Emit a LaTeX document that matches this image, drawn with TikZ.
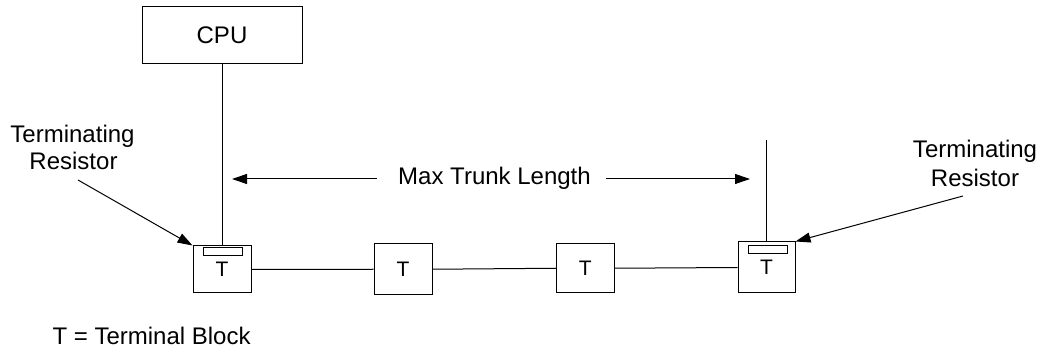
\documentclass[tikz,border=0pt]{standalone}
\usepackage{fontspec}
\setmainfont{Liberation Sans}
\usetikzlibrary{arrows.meta}
\begin{document}
\begin{tikzpicture}[x=1pt,y=-1pt,
  line width=1pt,
  lbl/.style={font=\fontsize{24}{28}\selectfont, inner sep=0pt, anchor=base},
  tbox/.style={draw, inner sep=0pt, font=\fontsize{21}{24}\selectfont},
  resist/.style={draw, inner sep=0pt, minimum width=39pt, minimum height=8pt},
  tip/.style={-{Triangle[length=15pt,width=10pt]}},
  wire/.style={draw}]
\useasboundingbox (0,0) rectangle (1042,352);
% CPU
\node[draw, inner sep=0pt, minimum width=160pt, minimum height=57pt,
      font=\fontsize{24}{28}\selectfont] (cpu) at (222,35.5) {CPU};
% terminal blocks
\node[tbox, minimum width=58pt, minimum height=47pt] (b1) at (222,269.5) {T};
\node[tbox, minimum width=58pt, minimum height=51pt] (b2) at (403,269.25) {T};
\node[tbox, minimum width=57.5pt, minimum height=49.5pt] (b3) at (585.25,268.25) {T};
\node[tbox, minimum width=57pt, minimum height=51pt] (b4) at (766.5,267.5) {T};
% resistors
\node[resist] (r1) at (222.5,252) {};
\node[resist] (r4) at (767.5,250) {};
% wires
\draw (cpu.south) -- (b1.north);
\draw (b1.east) -- (b2.west);
\draw (b2.east) -- (b3.west);
\draw (b3.east) -- (b4.west);
\coordinate (vtop) at (766,140);
\draw (vtop) -- (b4.north -| vtop);
% Max trunk length
\node[lbl] (mtl) at (494.5,185) {Max Trunk Length};
\coordinate (la) at (377,179);
\coordinate (lt) at (232,179);
\coordinate (ra) at (606,179);
\coordinate (rt) at (750,179);
\draw[tip] (la) -- (lt);
\draw[tip] (ra) -- (rt);
% terminating resistor labels
\node[lbl] (tl1) at (72.5,143) {Terminating};
\node[lbl] (tl2) at (73.5,170) {Resistor};
\coordinate (tla) at (78,180);
\draw[tip] (tla) -- (b1.north west);
\node[lbl] (tr1) at (975,158) {Terminating};
\node[lbl] (tr2) at (975,187) {Resistor};
\coordinate (tra) at (963,196);
\draw[tip] (tra) -- (b4.north east);
% legend
\node[lbl, anchor=base west] (leg) at (52,345) {T = Terminal Block};
\end{tikzpicture}
\end{document}
